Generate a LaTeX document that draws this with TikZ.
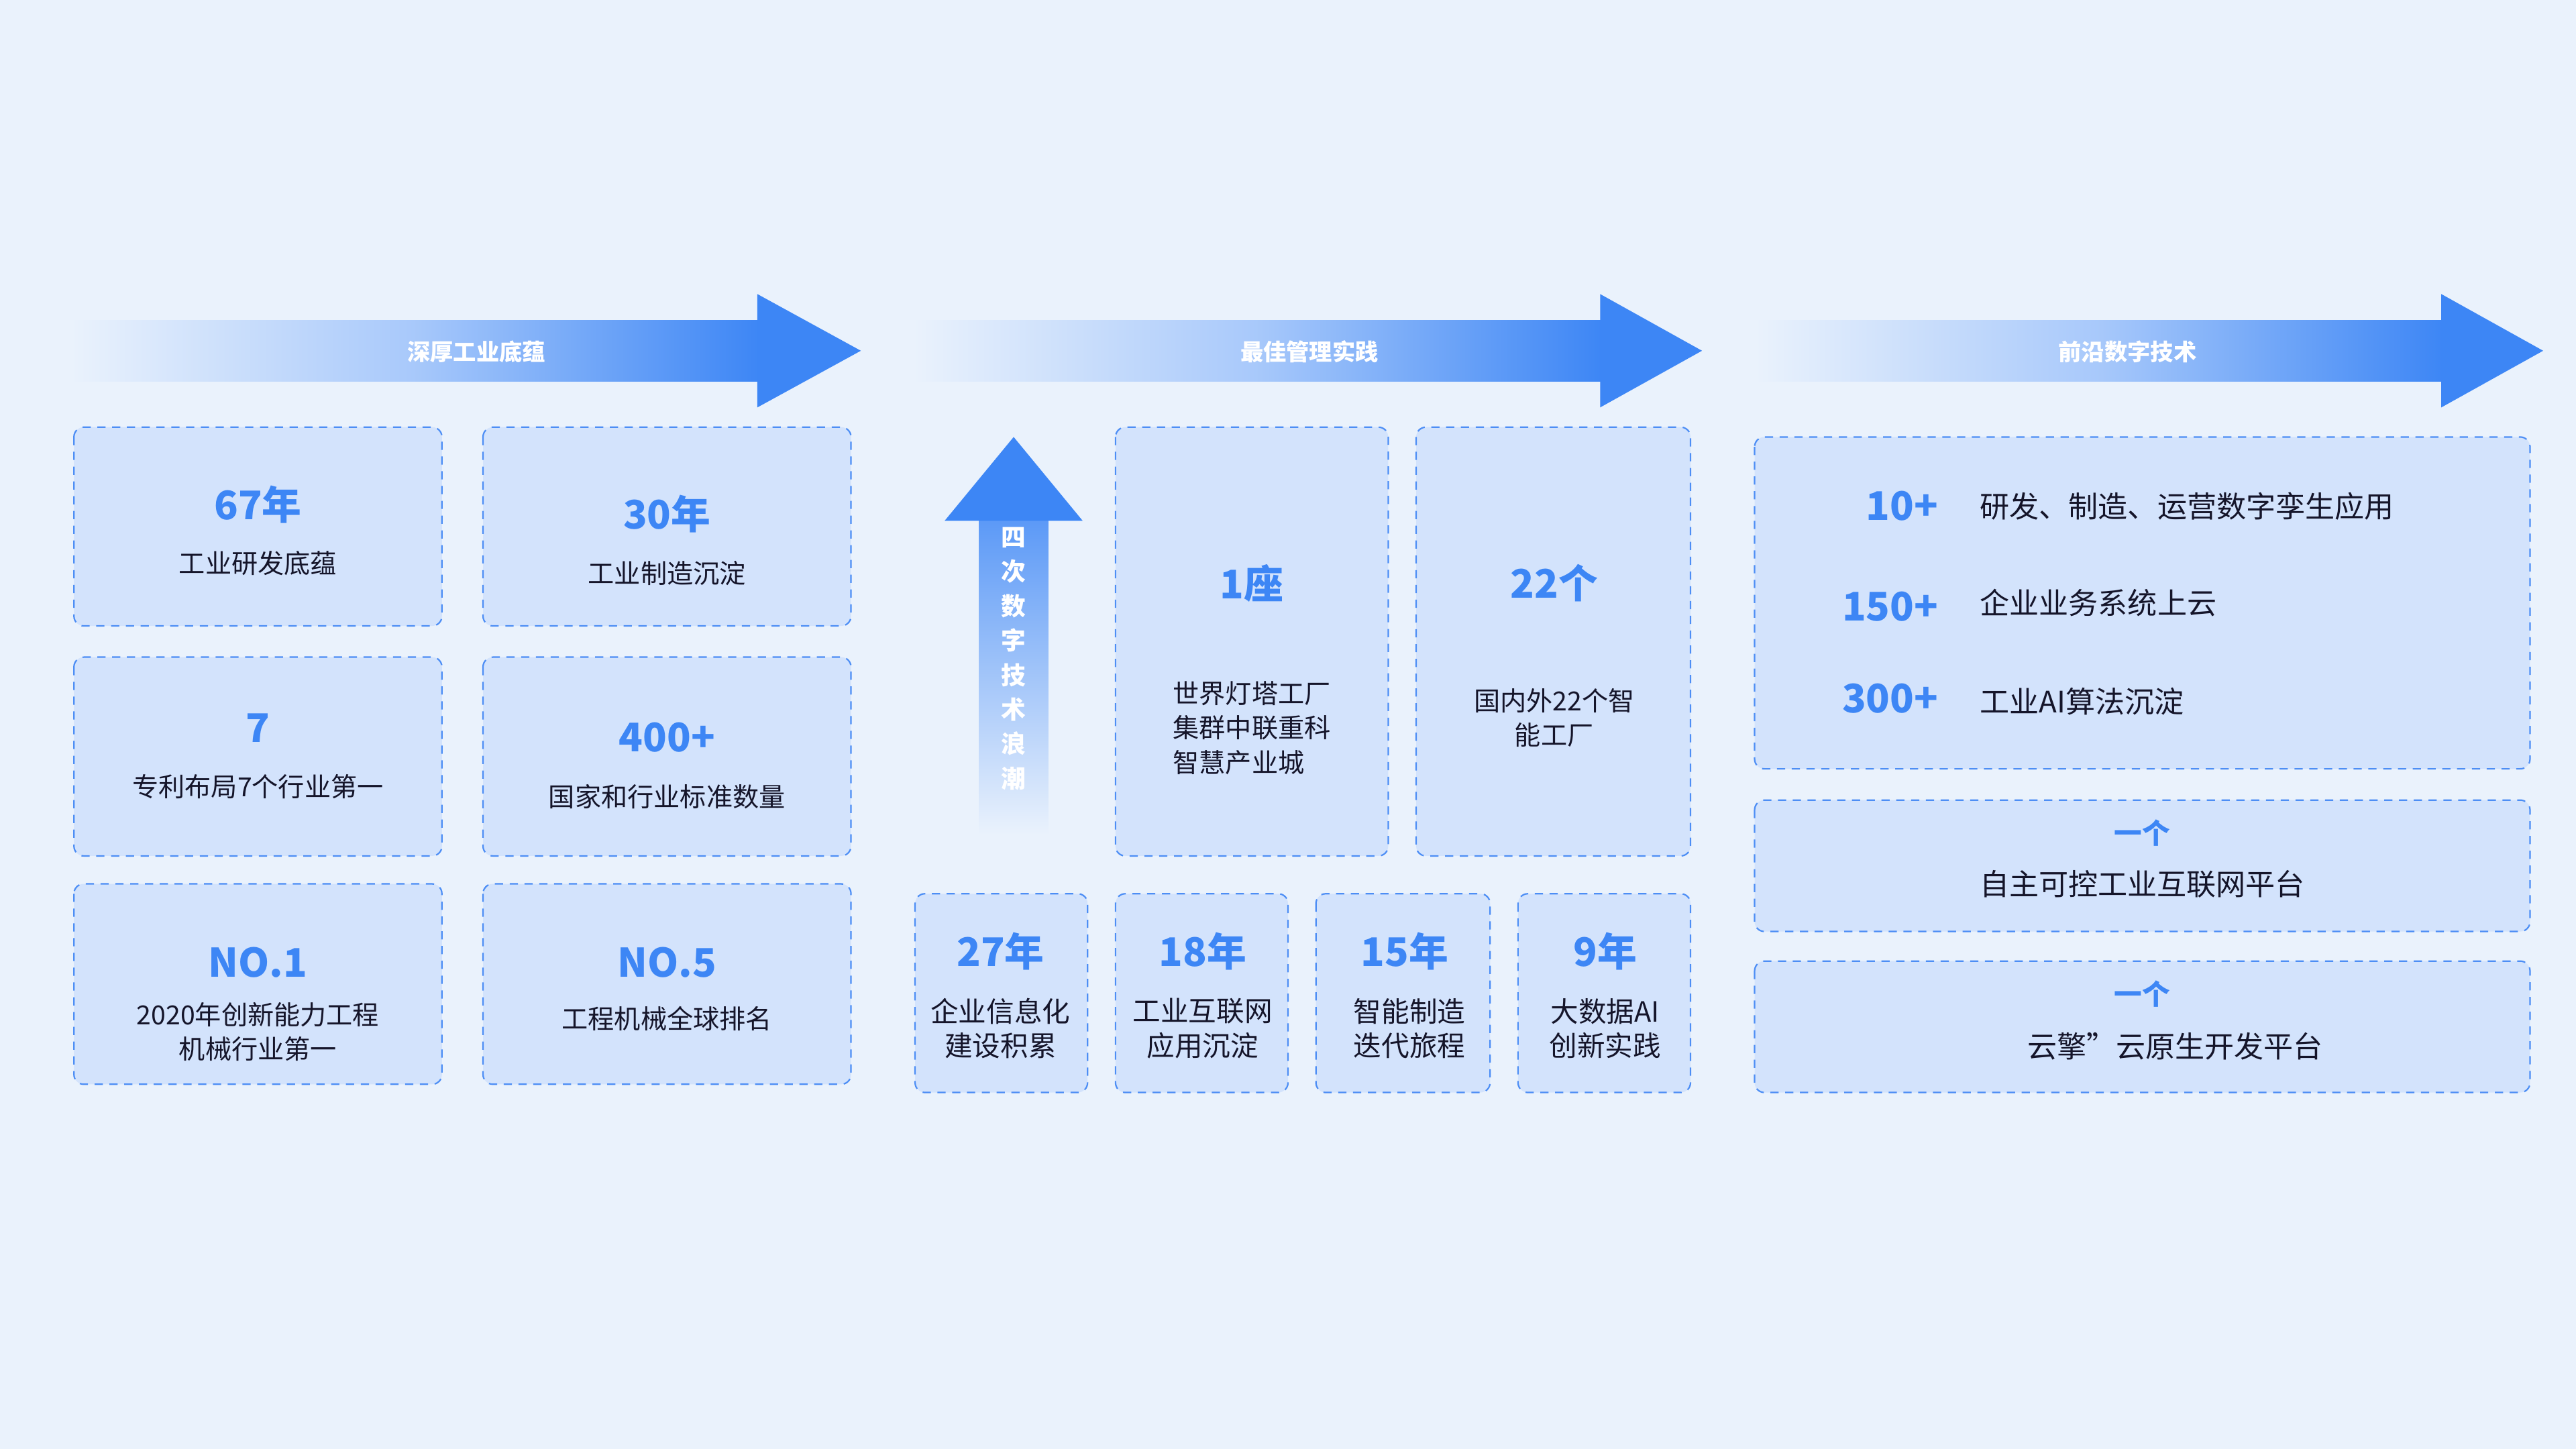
\documentclass[tikz,border=0pt]{standalone}
\usepackage{fontspec}
\setmainfont{Noto Sans CJK SC}
\usetikzlibrary{positioning}
\definecolor{bg}{HTML}{EAF2FC}
\definecolor{boxfill}{HTML}{D3E3FC}
\definecolor{boxline}{HTML}{4D8EF5}
\definecolor{num}{HTML}{3D86F5}
\definecolor{txt}{HTML}{15152A}
\definecolor{arr}{HTML}{3D86F5}
\tikzset{
 card/.style={draw=boxline, fill=boxfill, dashed, dash pattern=on 5pt off 4pt, line width=0.9pt, rounded corners=6pt},
 numtxt/.style={text=num, font=\fontsize{24}{28}\selectfont\bfseries, inner sep=0pt},
 lbl/.style={text=txt, font=\fontsize{16}{21}\selectfont, inner sep=0pt, align=center},
 lbll/.style={text=txt, font=\fontsize{18}{22}\selectfont, inner sep=0pt},
 bartxt/.style={text=white, font=\fontsize{14}{16}\selectfont\bfseries, inner sep=0pt},
}
\begin{document}
\begin{tikzpicture}[x=1pt,y=-1pt]
\fill[bg] (0,0) rectangle (1568,882);
\useasboundingbox (0,0) rectangle (1568,882);
% top bars
\shade[left color=bg, right color=arr, middle color=arr!45!white] (43,195) rectangle (462,232);
\fill[arr] (461,179) -- (524,213.5) -- (461,248) -- cycle;
\node[bartxt] (b1) at (290,214) {深厚工业底蕴};
\shade[left color=bg, right color=arr, middle color=arr!45!white] (556,195) rectangle (975,232);
\fill[arr] (974,179) -- (1036,213.5) -- (974,248) -- cycle;
\node[bartxt] (b2) at (797,214) {最佳管理实践};
\shade[left color=bg, right color=arr, middle color=arr!45!white] (1068,195) rectangle (1487,232);
\fill[arr] (1486,179) -- (1548,213.5) -- (1486,248) -- cycle;
\node[bartxt] (b3) at (1295,214) {前沿数字技术};
% column 1
\draw[card] (45,260) rectangle (269,381);
\draw[card] (294,260) rectangle (518,381);
\draw[card] (45,400) rectangle (269,521);
\draw[card] (294,400) rectangle (518,521);
\draw[card] (45,538) rectangle (269,660);
\draw[card] (294,538) rectangle (518,660);
\node[numtxt] (n1) at (157,307) {67年};
\node[lbl] (l1) at (157,343) {工业研发底蕴};
\node[numtxt] (n2) at (406,313) {30年};
\node[lbl] (l2) at (406,349) {工业制造沉淀};
\node[numtxt] (n3) at (157,443) {7};
\node[lbl] (l3) at (157,479) {专利布局7个行业第一};
\node[numtxt] (n4) at (406,449) {400+};
\node[lbl] (l4) at (406,485) {国家和行业标准数量};
\node[numtxt] (n5) at (157,586) {NO.1};
\node[lbl] (l5) at (157,628) {2020年创新能力工程\\机械行业第一};
\node[numtxt] (n6) at (406,586) {NO.5};
\node[lbl] (l6) at (406,620) {工程机械全球排名};
% up arrow
\shade[top color=arr!85!white, bottom color=bg] (596,314) rectangle (638,508);
\fill[arr] (575,317) -- (617,266) -- (659,317) -- cycle;
\node[text=white, font=\fontsize{15}{21}\selectfont\bfseries, align=center, inner sep=0pt] (vt) at (617,401) {四\\次\\数\\字\\技\\术\\浪\\潮};
% middle boxes
\draw[card] (679,260) rectangle (845,521);
\draw[card] (862,260) rectangle (1029,521);
\node[numtxt] (n7) at (762,355) {1座};
\node[lbl, align=left] (l7) at (762,443) {世界灯塔工厂\\集群中联重科\\智慧产业城};
\node[numtxt] (n8) at (946,355) {22个};
\node[lbl] (l8) at (946,437) {国内外22个智\\能工厂};
\draw[card] (557,544) rectangle (662,665);
\draw[card] (679,544) rectangle (784,665);
\draw[card] (801,544) rectangle (907,665);
\draw[card] (924,544) rectangle (1029,665);
\node[numtxt] (n9) at (609,579) {27年};
\node[lbl, font=\fontsize{17}{21}\selectfont] (l9) at (609,626) {企业信息化\\建设积累};
\node[numtxt] (n10) at (732,579) {18年};
\node[lbl, font=\fontsize{17}{21}\selectfont] (l10) at (732,626) {工业互联网\\应用沉淀};
\node[numtxt] (n11) at (855,579) {15年};
\node[lbl, font=\fontsize{17}{21}\selectfont] (l11) at (858,626) {智能制造\\迭代旅程};
\node[numtxt] (n12) at (977,579) {9年};
\node[lbl, font=\fontsize{17}{21}\selectfont] (l12) at (977,626) {大数据AI\\创新实践};
% right
\draw[card] (1068,266) rectangle (1540,468);
\draw[card] (1068,487) rectangle (1540,567);
\draw[card] (1068,585) rectangle (1540,665);
\node[numtxt, anchor=east] (r1) at (1180,308) {10+};
\node[lbll, anchor=west] (t1) at (1205,308) {研发、制造、运营数字孪生应用};
\node[numtxt, anchor=east] (r2) at (1180,369) {150+};
\node[lbll, anchor=west] (t2) at (1205,367) {企业业务系统上云};
\node[numtxt, anchor=east] (r3) at (1180,425) {300+};
\node[lbll, anchor=west] (t3) at (1205,427) {工业AI算法沉淀};
\node[text=num, font=\fontsize{17}{20}\selectfont\bfseries, inner sep=0pt] (o1) at (1304,507) {一个};
\node[lbll] (p1) at (1304,538) {自主可控工业互联网平台};
\node[text=num, font=\fontsize{17}{20}\selectfont\bfseries, inner sep=0pt] (o2) at (1304,605) {一个};
\node[lbll] (p2) at (1324,637) {云擎”云原生开发平台};
\end{tikzpicture}
\end{document}
